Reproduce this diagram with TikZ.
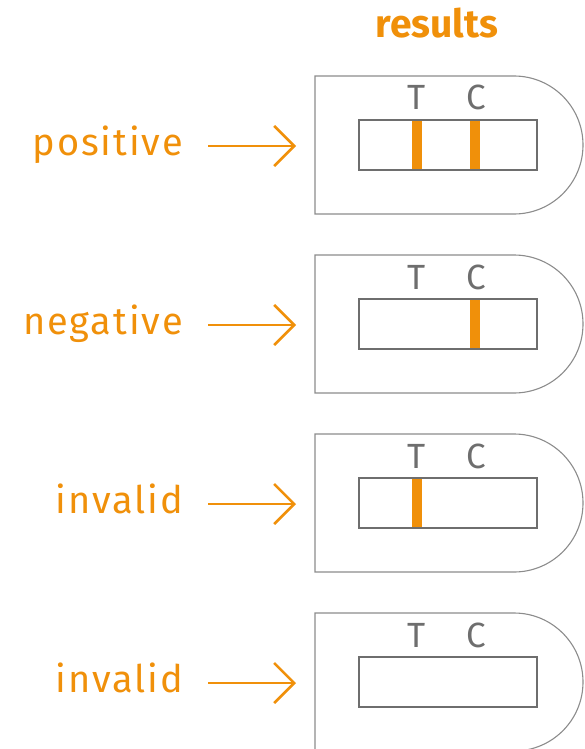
\documentclass[tikz,border=0pt]{standalone}
\usepackage{fontspec}
\setmainfont{Fira Sans}
\usetikzlibrary{arrows.meta}
\definecolor{rorange}{HTML}{F0900A}
\definecolor{rgray}{HTML}{8C8C8C}
\definecolor{rdark}{HTML}{6E6E6E}
\tikzset{
  title/.style={text=rorange, font=\fontsize{39}{40}\selectfont\bfseries},
  result/.style={text=rorange, anchor=base east, inner sep=0pt,
    font=\fontsize{38}{40}\selectfont\addfontfeature{LetterSpace=5}},
  letter/.style={text=rdark, anchor=base, inner sep=0pt, font=\fontsize{35}{38}\selectfont},
  cassette/.style={draw=rgray, line width=1.1pt},
  window/.style={draw=rdark, line width=1.6pt},
  band/.style={fill=rorange},
  pointer/.style={draw=rorange, line width=2.6pt, -{Straight Barb[length=20pt,width=40pt]}}
}
\begin{document}
\begin{tikzpicture}[x=1pt,y=-1pt]
    \useasboundingbox (0,0) rectangle (584,749);
    \node[title] (results) at (437,23) {results};
    \foreach \i/\lab/\t/\c in {0/positive/1/1, 1/negative/0/1, 2/invalid/1/0, 3/invalid/0/0} {
      \begin{scope}[yshift=-179*\i pt]
        % cassette with rounded end
        \draw[cassette] (514,76) -- (315,76) -- (315,214) -- (514,214)
          arc[start angle=-90, end angle=90, radius=69pt];
        \draw[window] (359,120) rectangle (537,170);
        \ifnum\t=1 \fill[band] (412,121) rectangle (422,169); \fi
        \ifnum\c=1 \fill[band] (470,121) rectangle (480,169); \fi
        \node[letter] (T\i) at (417,110) {T};
        \node[letter] (C\i) at (476,110) {C};
        \node[result] (lab\i) at (183,155) {\lab};
        \coordinate (tail\i) at (208,146);
        \coordinate (head\i) at (296,146);
        \draw[pointer] (tail\i) -- (head\i);
      \end{scope}
    }
\end{tikzpicture}
\end{document}
